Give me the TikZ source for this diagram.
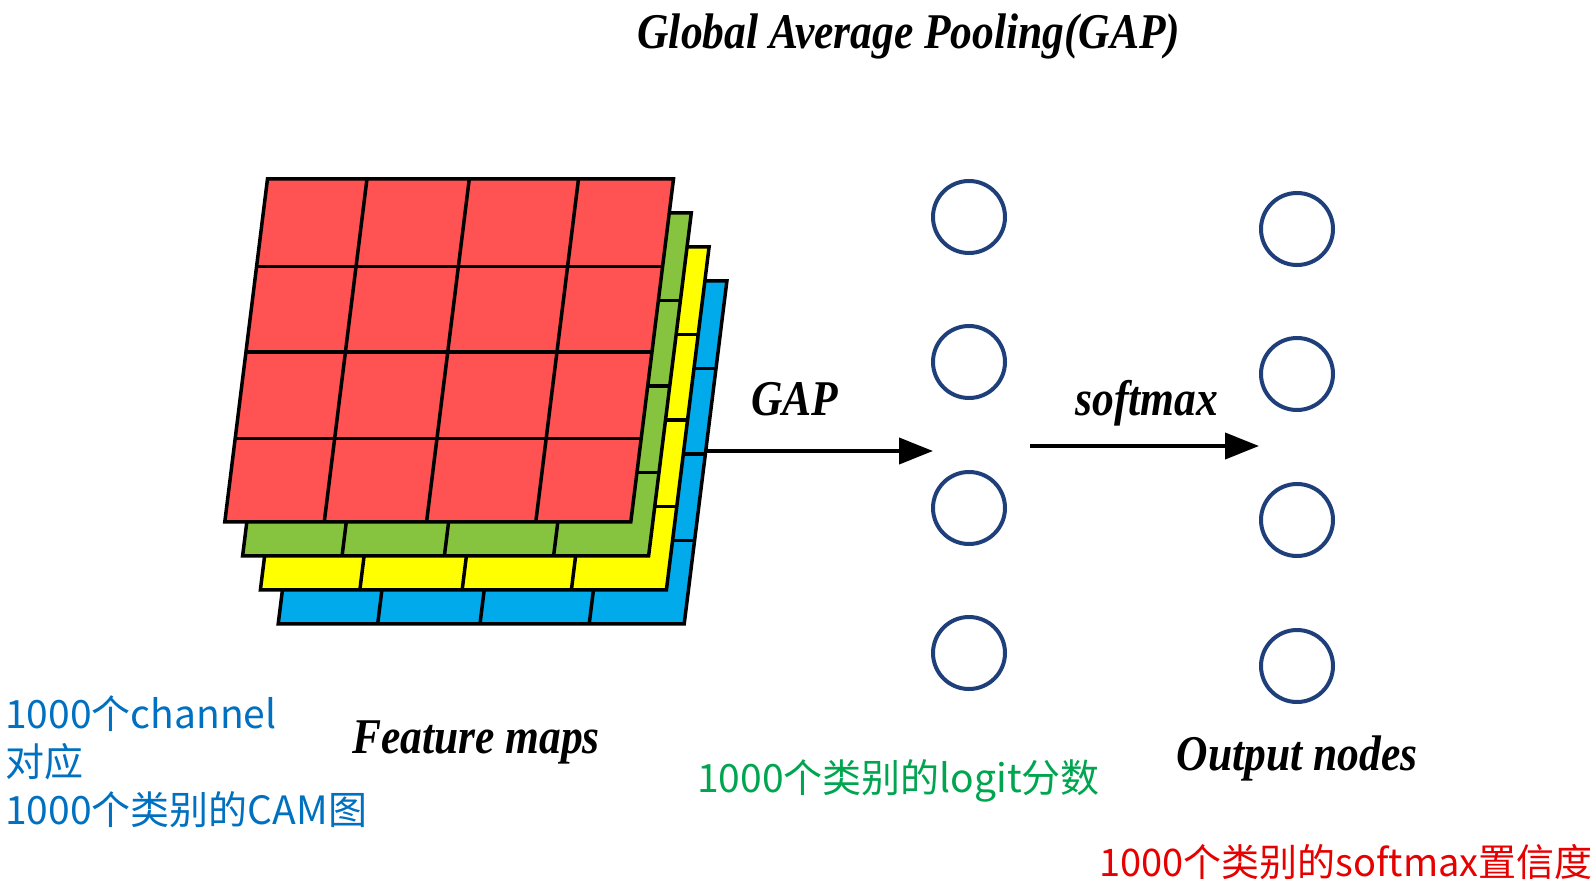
\documentclass[tikz,border=0pt]{standalone}
\usepackage{fontspec}
\usetikzlibrary{arrows.meta}
\newfontfamily\tnr[FakeStretch=0.87]{Liberation Serif}
\newfontfamily\cjk{Noto Sans CJK SC}
\definecolor{mapred}{HTML}{FF5252}
\definecolor{mapgreen}{HTML}{86C440}
\definecolor{mapyellow}{HTML}{FFFF00}
\definecolor{mapblue}{HTML}{00AAEB}
\definecolor{navy}{HTML}{1F3F7A}
\definecolor{txtblue}{HTML}{0070C0}
\definecolor{txtgreen}{HTML}{00A550}
\definecolor{txtred}{HTML}{E60000}
\tikzset{
  layergrid/.style={line width=3.5pt, line join=miter, draw=black},
  neuron/.style={circle, draw=navy, line width=4pt, minimum size=72pt, inner sep=0pt},
  flow/.style={line width=4pt, -{Triangle[length=34pt,width=26pt]}},
  entitle/.style={font=\tnr\bfseries\itshape\fontsize{50pt}{60pt}\selectfont, inner sep=0pt, anchor=base},
  cjklabel/.style={font=\cjk\fontsize{39pt}{48pt}\selectfont, inner sep=0pt, anchor=base west, align=left}
}
\newcommand\featurelayer[2]{%
 \begin{scope}[shift={(267.5+17.8*#1,178.9+34*#1)}, x={(406pt,0pt)}, y={(-42.7pt,-343pt)}]
   \fill[#2] (0,0)--(1,0)--(1,1)--(0,1)--cycle;
   \foreach \u in {0.245,0.497,0.766} \draw[layergrid] (\u,0)--(\u,1);
   \foreach \v in {0.256,0.504,0.757} \draw[layergrid] (0,\v)--(1,\v);
   \draw[layergrid] (0,0)--(1,0)--(1,1)--(0,1)--cycle;
 \end{scope}}
\begin{document}
\begin{tikzpicture}[x=1pt,y=-1pt]
\fill[white] (0,0) rectangle (1595,885);
\useasboundingbox (0,0) rectangle (1595,885);

% feature map stack, back to front
\featurelayer{3}{mapblue}
\featurelayer{2}{mapyellow}
\featurelayer{1}{mapgreen}
\featurelayer{0}{mapred}

% neurons
\foreach \i/\y in {1/217,2/362,3/508,4/653}
  \node[neuron] (l\i) at (969,\y) {};
\foreach \i/\y in {1/229,2/374,3/520,4/666}
  \node[neuron] (o\i) at (1297,\y) {};

% arrows
\coordinate (gapfrom) at (706,451);
\coordinate (gapto) at (933,451);
\draw[flow] (gapfrom) -- (gapto);
\coordinate (smfrom) at (1030,446);
\coordinate (smto) at (1259,446);
\draw[flow] (smfrom) -- (smto);

% English labels
\node[entitle] (title) at (909,49) {Global Average Pooling(GAP)};
\node[entitle] (gaplbl) at (795,415) {GAP};
\node[entitle] (smlbl) at (1147,415) {softmax};
\node[entitle] (fmlbl) at (476,753) {Feature maps};
\node[entitle] (onlbl) at (1297,770) {Output nodes};

% Chinese annotations
\node[cjklabel, text=txtblue] (cam1) at (5,728) {1000个channel};
\node[cjklabel, text=txtblue] (cam2) at (5,776) {对应};
\node[cjklabel, text=txtblue] (cam3) at (5,824) {1000个类别的CAM图};
\node[cjklabel, text=txtgreen] (logit) at (697,792) {1000个类别的logit分数};
\node[cjklabel, text=txtred, font=\cjk\fontsize{38pt}{46pt}\selectfont] (conf) at (1099,876) {1000个类别的softmax置信度};
\end{tikzpicture}
\end{document}
